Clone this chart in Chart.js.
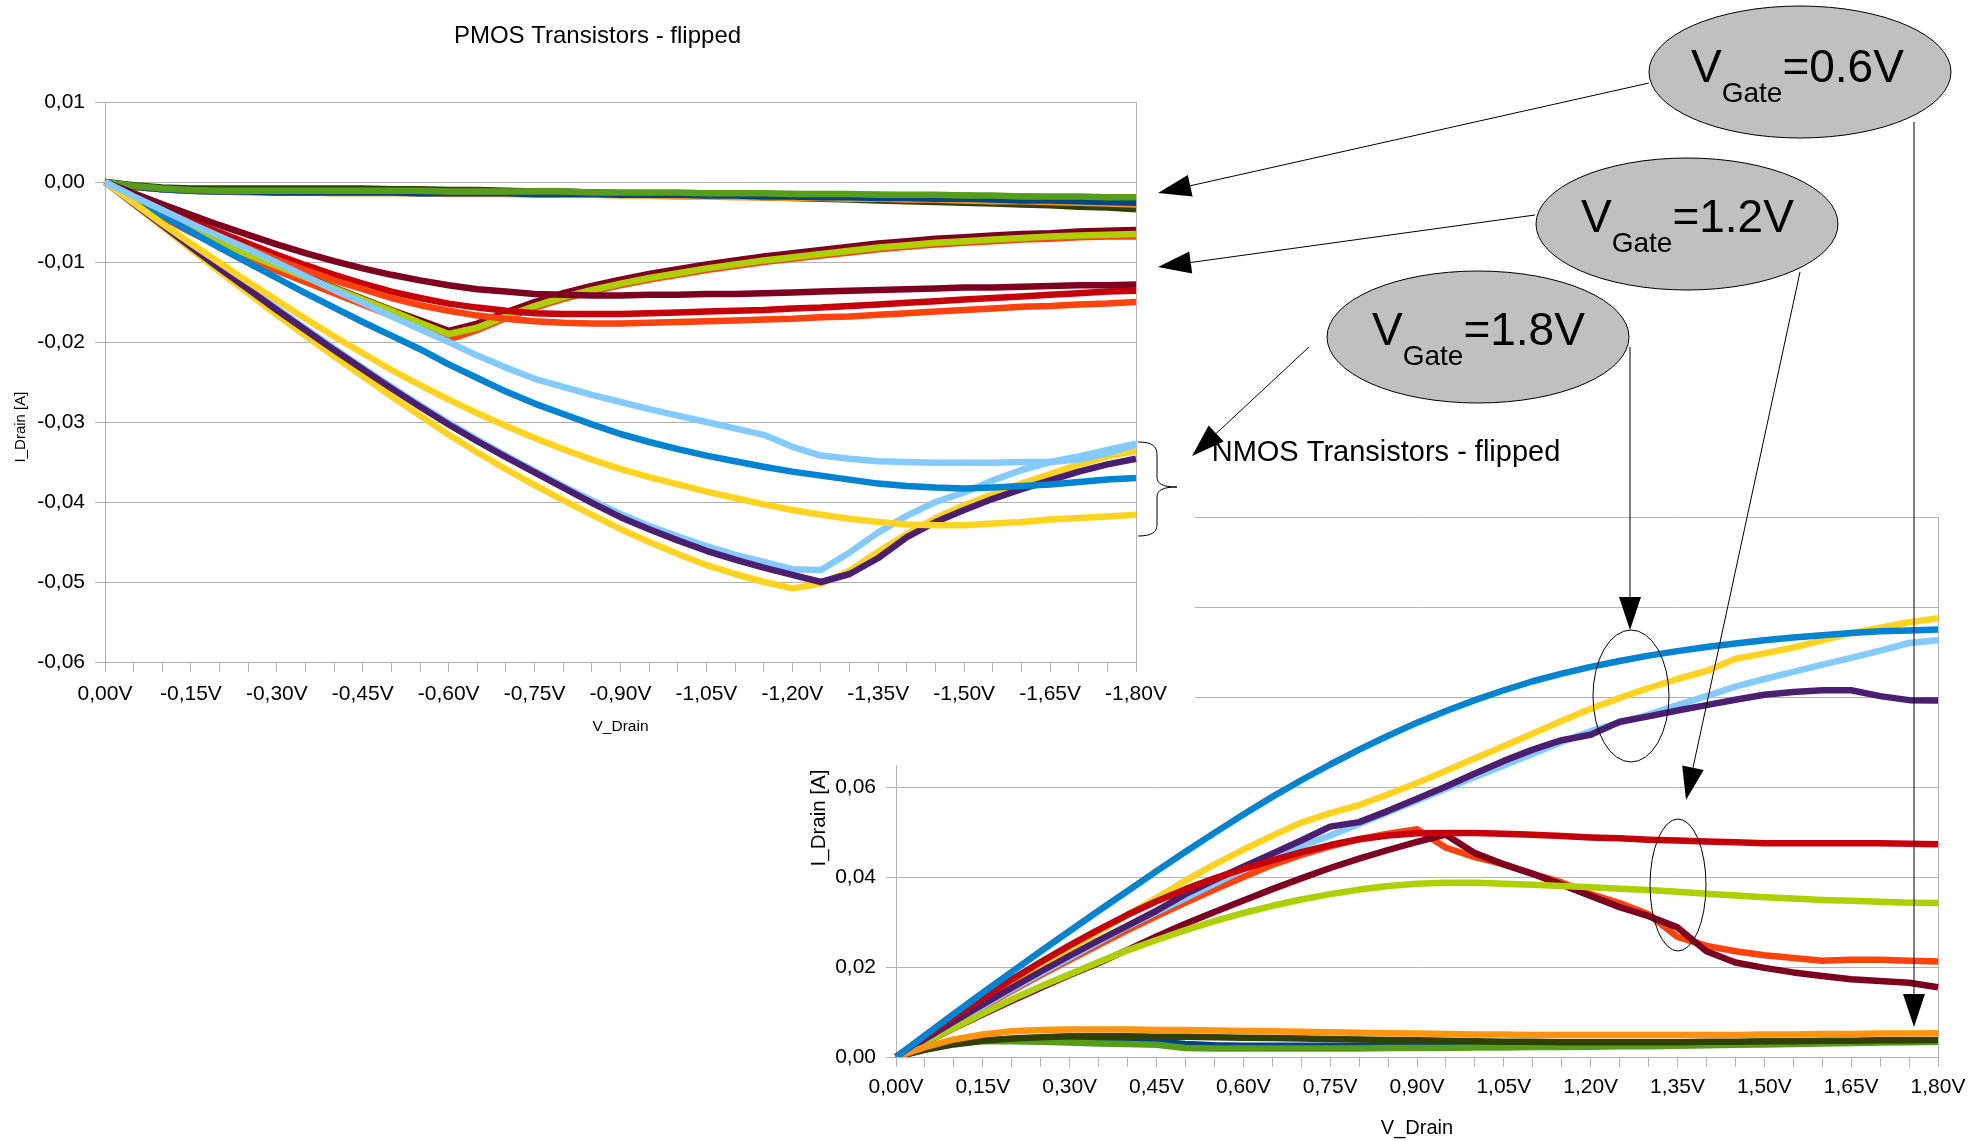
<!DOCTYPE html>
<html>
<head>
<meta charset="utf-8">
<script src="https://cdn.jsdelivr.net/npm/chart.js@4.4.1/dist/chart.umd.min.js"></script>
<style>
  html, body { margin: 0; padding: 0; background: #fff; }
  #stage { position: relative; width: 1982px; height: 1141px; overflow: hidden; }
  #nmos { position: absolute; left: 790px; top: 420px; z-index: 1; }
  #pmos { position: absolute; left: 0; top: 0; z-index: 2; }
  #notes { position: absolute; left: 0; top: 0; z-index: 3; font-family: "Liberation Sans", Arial, sans-serif; }
</style>
</head>
<body>
<div id="stage">
  <canvas id="nmos" width="1192" height="721"></canvas>
  <canvas id="pmos" width="1195" height="765"></canvas>
  <svg id="notes" width="1982" height="1141" xmlns="http://www.w3.org/2000/svg"></svg>
</div>
<script>
// x categories (drain voltage, 0.05V steps)
const pmosVolts = ['0,00V','-0,05V','-0,10V','-0,15V','-0,20V','-0,25V','-0,30V','-0,35V','-0,40V','-0,45V','-0,50V','-0,55V','-0,60V','-0,65V','-0,70V','-0,75V','-0,80V','-0,85V','-0,90V','-0,95V','-1,00V','-1,05V','-1,10V','-1,15V','-1,20V','-1,25V','-1,30V','-1,35V','-1,40V','-1,45V','-1,50V','-1,55V','-1,60V','-1,65V','-1,70V','-1,75V','-1,80V'];
const nmosVolts = ['0,00V','0,05V','0,10V','0,15V','0,20V','0,25V','0,30V','0,35V','0,40V','0,45V','0,50V','0,55V','0,60V','0,65V','0,70V','0,75V','0,80V','0,85V','0,90V','0,95V','1,00V','1,05V','1,10V','1,15V','1,20V','1,25V','1,30V','1,35V','1,40V','1,45V','1,50V','1,55V','1,60V','1,65V','1,70V','1,75V','1,80V'];

// LibreOffice default series colours, used in order
const palette = ['#004586','#ff420e','#ffd320','#579d1c','#7e0021','#83caff','#314004','#aecf00','#4b1f6f','#ff950e','#c5000b','#0084d1'];

// PMOS I_Drain [A], transistor T0..T5, gate 0.6 / 1.2 / 1.8 V
const pT0_06 = [0,-0.0006,-0.0009,-0.0011,-0.0012,-0.0012,-0.0013,-0.0013,-0.0013,-0.0013,-0.0013,-0.0014,-0.0014,-0.0014,-0.0014,-0.0015,-0.0015,-0.0015,-0.0016,-0.0016,-0.0016,-0.0017,-0.0017,-0.0018,-0.0018,-0.0019,-0.0019,-0.0020,-0.0020,-0.0021,-0.0021,-0.0022,-0.0022,-0.0023,-0.0023,-0.0024,-0.0024];
const pT0_12 = [0,-0.0023,-0.0044,-0.0063,-0.0080,-0.0096,-0.0111,-0.0125,-0.0139,-0.0153,-0.0167,-0.0182,-0.0197,-0.0185,-0.0170,-0.0157,-0.0146,-0.0137,-0.0129,-0.0122,-0.0116,-0.0110,-0.0105,-0.0100,-0.0096,-0.0092,-0.0088,-0.0084,-0.0081,-0.0078,-0.0076,-0.0074,-0.0072,-0.0071,-0.0069,-0.0068,-0.0068];
const pT0_18 = [0,-0.0028,-0.0056,-0.0084,-0.0112,-0.0139,-0.0166,-0.0192,-0.0218,-0.0243,-0.0268,-0.0292,-0.0316,-0.0338,-0.0359,-0.0379,-0.0398,-0.0416,-0.0434,-0.0450,-0.0465,-0.0479,-0.0490,-0.0500,-0.0508,-0.0502,-0.0486,-0.0462,-0.0440,-0.0420,-0.0404,-0.0390,-0.0377,-0.0365,-0.0353,-0.0343,-0.0336];
const pT1_06 = [0,-0.0005,-0.0008,-0.0010,-0.0011,-0.0011,-0.0011,-0.0011,-0.0011,-0.0012,-0.0012,-0.0012,-0.0012,-0.0012,-0.0013,-0.0013,-0.0013,-0.0013,-0.0014,-0.0014,-0.0014,-0.0014,-0.0015,-0.0015,-0.0015,-0.0016,-0.0016,-0.0016,-0.0017,-0.0017,-0.0017,-0.0018,-0.0018,-0.0019,-0.0019,-0.0020,-0.0020];
const pT1_12 = [0,-0.0021,-0.0041,-0.0059,-0.0075,-0.0090,-0.0104,-0.0118,-0.0132,-0.0146,-0.0160,-0.0173,-0.0186,-0.0177,-0.0163,-0.0150,-0.0139,-0.0130,-0.0122,-0.0115,-0.0109,-0.0103,-0.0098,-0.0093,-0.0089,-0.0085,-0.0081,-0.0077,-0.0074,-0.0071,-0.0069,-0.0067,-0.0065,-0.0064,-0.0062,-0.0061,-0.0060];
const pT1_18 = [0,-0.0027,-0.0053,-0.0080,-0.0106,-0.0132,-0.0158,-0.0183,-0.0208,-0.0232,-0.0256,-0.0279,-0.0301,-0.0322,-0.0342,-0.0361,-0.0380,-0.0398,-0.0415,-0.0430,-0.0443,-0.0455,-0.0466,-0.0475,-0.0484,-0.0485,-0.0463,-0.0438,-0.0417,-0.0400,-0.0388,-0.0373,-0.0360,-0.0350,-0.0343,-0.0335,-0.0327];
const pT2_06 = [0,-0.0004,-0.0007,-0.0008,-0.0008,-0.0008,-0.0008,-0.0008,-0.0008,-0.0008,-0.0009,-0.0009,-0.0010,-0.0010,-0.0011,-0.0012,-0.0012,-0.0013,-0.0014,-0.0015,-0.0016,-0.0017,-0.0018,-0.0019,-0.0020,-0.0021,-0.0022,-0.0023,-0.0024,-0.0025,-0.0026,-0.0027,-0.0028,-0.0029,-0.0031,-0.0032,-0.0034];
const pT2_12 = [0,-0.0022,-0.0042,-0.0060,-0.0076,-0.0091,-0.0105,-0.0119,-0.0133,-0.0147,-0.0161,-0.0176,-0.0190,-0.0182,-0.0168,-0.0155,-0.0144,-0.0135,-0.0127,-0.0120,-0.0114,-0.0108,-0.0103,-0.0098,-0.0094,-0.0090,-0.0086,-0.0082,-0.0079,-0.0076,-0.0074,-0.0072,-0.0070,-0.0068,-0.0067,-0.0066,-0.0065];
const pT2_18 = [0,-0.0027,-0.0054,-0.0081,-0.0108,-0.0134,-0.0160,-0.0185,-0.0210,-0.0234,-0.0258,-0.0281,-0.0303,-0.0324,-0.0344,-0.0363,-0.0382,-0.0401,-0.0419,-0.0434,-0.0448,-0.0461,-0.0472,-0.0482,-0.0491,-0.0500,-0.0490,-0.0470,-0.0444,-0.0425,-0.0410,-0.0396,-0.0384,-0.0373,-0.0362,-0.0353,-0.0346];
const pT3_06 = [0,-0.0006,-0.0009,-0.0011,-0.0012,-0.0013,-0.0013,-0.0013,-0.0014,-0.0014,-0.0014,-0.0014,-0.0015,-0.0015,-0.0015,-0.0016,-0.0016,-0.0016,-0.0017,-0.0017,-0.0018,-0.0018,-0.0019,-0.0019,-0.0020,-0.0020,-0.0021,-0.0021,-0.0022,-0.0022,-0.0023,-0.0024,-0.0024,-0.0025,-0.0026,-0.0027,-0.0028];
const pT3_12 = [0,-0.0016,-0.0032,-0.0048,-0.0063,-0.0077,-0.0091,-0.0104,-0.0116,-0.0127,-0.0137,-0.0145,-0.0152,-0.0157,-0.0161,-0.0164,-0.0165,-0.0165,-0.0165,-0.0164,-0.0163,-0.0162,-0.0161,-0.0160,-0.0158,-0.0157,-0.0155,-0.0153,-0.0151,-0.0149,-0.0147,-0.0145,-0.0143,-0.0141,-0.0139,-0.0137,-0.0136];
const pT3_18 = [0,-0.0021,-0.0042,-0.0062,-0.0082,-0.0101,-0.0120,-0.0139,-0.0157,-0.0175,-0.0192,-0.0209,-0.0228,-0.0245,-0.0262,-0.0277,-0.0290,-0.0303,-0.0315,-0.0325,-0.0334,-0.0342,-0.0349,-0.0356,-0.0362,-0.0367,-0.0372,-0.0377,-0.0380,-0.0382,-0.0383,-0.0382,-0.0380,-0.0378,-0.0375,-0.0372,-0.0370];
const pT4_06 = [0,-0.0006,-0.0009,-0.0011,-0.0012,-0.0012,-0.0013,-0.0013,-0.0013,-0.0013,-0.0013,-0.0014,-0.0014,-0.0014,-0.0014,-0.0015,-0.0015,-0.0015,-0.0016,-0.0016,-0.0016,-0.0017,-0.0017,-0.0018,-0.0018,-0.0019,-0.0019,-0.0020,-0.0020,-0.0021,-0.0021,-0.0022,-0.0023,-0.0023,-0.0024,-0.0025,-0.0026];
const pT4_12 = [0,-0.0018,-0.0035,-0.0052,-0.0068,-0.0083,-0.0097,-0.0110,-0.0123,-0.0134,-0.0145,-0.0154,-0.0161,-0.0167,-0.0171,-0.0174,-0.0176,-0.0177,-0.0177,-0.0176,-0.0175,-0.0174,-0.0173,-0.0172,-0.0171,-0.0169,-0.0168,-0.0166,-0.0164,-0.0162,-0.0160,-0.0158,-0.0156,-0.0155,-0.0153,-0.0152,-0.0150];
const pT4_18 = [0,-0.0026,-0.0052,-0.0077,-0.0101,-0.0125,-0.0148,-0.0171,-0.0193,-0.0214,-0.0235,-0.0254,-0.0272,-0.0289,-0.0305,-0.0320,-0.0334,-0.0347,-0.0359,-0.0369,-0.0378,-0.0387,-0.0395,-0.0403,-0.0410,-0.0416,-0.0421,-0.0425,-0.0428,-0.0429,-0.0429,-0.0427,-0.0425,-0.0422,-0.0420,-0.0418,-0.0416];
const pT5_06 = [0,-0.0005,-0.0008,-0.0010,-0.0011,-0.0011,-0.0011,-0.0011,-0.0011,-0.0011,-0.0011,-0.0011,-0.0012,-0.0012,-0.0012,-0.0012,-0.0012,-0.0013,-0.0013,-0.0013,-0.0013,-0.0014,-0.0014,-0.0014,-0.0015,-0.0015,-0.0015,-0.0016,-0.0016,-0.0016,-0.0017,-0.0017,-0.0018,-0.0018,-0.0018,-0.0019,-0.0019];
const pT5_12 = [0,-0.0014,-0.0028,-0.0041,-0.0054,-0.0066,-0.0078,-0.0089,-0.0099,-0.0108,-0.0116,-0.0123,-0.0129,-0.0134,-0.0137,-0.0140,-0.0141,-0.0142,-0.0142,-0.0141,-0.0141,-0.0140,-0.0140,-0.0139,-0.0138,-0.0137,-0.0136,-0.0135,-0.0134,-0.0133,-0.0132,-0.0132,-0.0131,-0.0130,-0.0129,-0.0129,-0.0128];
const pT5_18 = [0,-0.0018,-0.0035,-0.0052,-0.0068,-0.0084,-0.0101,-0.0118,-0.0135,-0.0151,-0.0168,-0.0184,-0.0200,-0.0217,-0.0232,-0.0246,-0.0256,-0.0266,-0.0275,-0.0284,-0.0292,-0.0300,-0.0308,-0.0316,-0.0331,-0.0342,-0.0346,-0.0349,-0.0350,-0.0351,-0.0351,-0.0351,-0.0350,-0.0350,-0.0347,-0.0339,-0.0328];

// NMOS I_Drain [A], transistor T0..T3, gate 0.6 / 1.2 / 1.8 V
const nT0_06 = [0,0.0018,0.0031,0.0037,0.0039,0.0039,0.0038,0.0037,0.0036,0.0034,0.0029,0.0026,0.0025,0.0025,0.0025,0.0025,0.0025,0.0025,0.0026,0.0026,0.0026,0.0026,0.0027,0.0027,0.0027,0.0028,0.0028,0.0029,0.0029,0.0030,0.0030,0.0031,0.0032,0.0033,0.0034,0.0035,0.0036];
const nT0_12 = [0,0.0038,0.0075,0.0111,0.0147,0.0182,0.0216,0.0249,0.0282,0.0313,0.0343,0.0372,0.0400,0.0427,0.0449,0.0468,0.0484,0.0496,0.0506,0.0465,0.0444,0.0428,0.0407,0.0388,0.0362,0.0342,0.0317,0.0267,0.0247,0.0235,0.0226,0.0220,0.0214,0.0216,0.0216,0.0214,0.0212];
const nT0_18 = [0,0.0042,0.0083,0.0124,0.0164,0.0203,0.0241,0.0278,0.0316,0.0354,0.0392,0.0428,0.0461,0.0492,0.0521,0.0542,0.0560,0.0584,0.0609,0.0636,0.0664,0.0691,0.0719,0.0747,0.0774,0.0798,0.0820,0.0840,0.0858,0.0885,0.0897,0.0910,0.0926,0.0942,0.0954,0.0966,0.0975];
const nT1_06 = [0,0.0018,0.0030,0.0035,0.0035,0.0034,0.0032,0.0030,0.0029,0.0027,0.0020,0.0019,0.0019,0.0019,0.0019,0.0019,0.0019,0.0020,0.0020,0.0020,0.0021,0.0021,0.0022,0.0022,0.0023,0.0024,0.0024,0.0025,0.0026,0.0027,0.0028,0.0029,0.0030,0.0031,0.0032,0.0033,0.0034];
const nT1_12 = [0,0.0032,0.0064,0.0095,0.0125,0.0154,0.0182,0.0209,0.0238,0.0268,0.0296,0.0322,0.0348,0.0373,0.0397,0.0420,0.0441,0.0460,0.0478,0.0494,0.0453,0.0428,0.0407,0.0383,0.0358,0.0333,0.0313,0.0288,0.0235,0.0210,0.0198,0.0188,0.0180,0.0173,0.0169,0.0165,0.0155];
const nT1_18 = [0,0.0038,0.0076,0.0113,0.0150,0.0186,0.0221,0.0256,0.0290,0.0322,0.0353,0.0385,0.0417,0.0444,0.0469,0.0492,0.0518,0.0544,0.0570,0.0596,0.0622,0.0648,0.0674,0.0700,0.0724,0.0743,0.0761,0.0782,0.0802,0.0823,0.0840,0.0856,0.0872,0.0887,0.0903,0.0920,0.0926];
const nT2_06 = [0,0.0016,0.0028,0.0036,0.0041,0.0044,0.0046,0.0046,0.0046,0.0045,0.0045,0.0044,0.0043,0.0042,0.0041,0.0040,0.0039,0.0038,0.0037,0.0036,0.0035,0.0034,0.0034,0.0033,0.0033,0.0033,0.0033,0.0033,0.0034,0.0034,0.0035,0.0035,0.0036,0.0036,0.0037,0.0037,0.0038];
const nT2_12 = [0,0.0033,0.0065,0.0097,0.0128,0.0157,0.0184,0.0211,0.0237,0.0260,0.0282,0.0302,0.0320,0.0336,0.0350,0.0362,0.0372,0.0380,0.0385,0.0387,0.0387,0.0385,0.0383,0.0380,0.0377,0.0374,0.0371,0.0367,0.0363,0.0359,0.0355,0.0352,0.0349,0.0347,0.0345,0.0343,0.0342];
const nT2_18 = [0,0.0040,0.0079,0.0117,0.0154,0.0190,0.0225,0.0259,0.0292,0.0325,0.0362,0.0393,0.0423,0.0452,0.0481,0.0512,0.0522,0.0547,0.0574,0.0601,0.0630,0.0658,0.0683,0.0704,0.0716,0.0745,0.0757,0.0770,0.0782,0.0794,0.0805,0.0811,0.0815,0.0815,0.0802,0.0793,0.0792];
const nT3_06 = [0,0.0022,0.0039,0.0050,0.0057,0.0060,0.0061,0.0061,0.0061,0.0060,0.0060,0.0059,0.0058,0.0057,0.0056,0.0055,0.0054,0.0053,0.0052,0.0051,0.0050,0.0050,0.0049,0.0049,0.0049,0.0049,0.0049,0.0049,0.0049,0.0049,0.0050,0.0050,0.0051,0.0051,0.0052,0.0052,0.0053];
const nT3_12 = [0,0.0045,0.0089,0.0131,0.0172,0.0211,0.0248,0.0283,0.0316,0.0346,0.0373,0.0397,0.0418,0.0437,0.0455,0.0471,0.0484,0.0492,0.0497,0.0498,0.0498,0.0496,0.0494,0.0491,0.0488,0.0486,0.0483,0.0481,0.0479,0.0477,0.0475,0.0475,0.0475,0.0475,0.0475,0.0474,0.0473];
const nT3_18 = [0,0.0048,0.0096,0.0143,0.0189,0.0235,0.0280,0.0325,0.0369,0.0413,0.0456,0.0498,0.0539,0.0578,0.0615,0.0650,0.0683,0.0714,0.0743,0.0769,0.0793,0.0815,0.0835,0.0852,0.0867,0.0880,0.0892,0.0902,0.0911,0.0919,0.0926,0.0932,0.0937,0.0942,0.0946,0.0948,0.0950];

const pmosSeries = [pT0_06, pT0_12, pT0_18, pT1_06, pT1_12, pT1_18, pT2_06, pT2_12, pT2_18, pT3_06, pT3_12, pT3_18, pT4_06, pT4_12, pT4_18, pT5_06, pT5_12, pT5_18];
const nmosSeries = [nT0_06, nT0_12, nT0_18, nT1_06, nT1_12, nT1_18, nT2_06, nT2_12, nT2_18, nT3_06, nT3_12, nT3_18];

const GRID = '#b3b3b3';
Chart.defaults.font.family = '"Liberation Sans", Arial, sans-serif';
Chart.defaults.color = '#000';

// the PMOS chart sits over the NMOS one and hides its top-left corner
const whiteBg = {
    id: 'whiteBg',
    beforeDraw(chart){
        const ctx = chart.ctx;
        ctx.save();
        ctx.fillStyle = '#fff';
        ctx.fillRect(0, 0, chart.width, chart.height);
        ctx.restore();
    }
};

function comma(v){
    if(Math.abs(v) < 1e-9) v = 0;
    return v.toFixed(2).replace('.', ',');
}

function makeChart(id, o){
    const n = o.series.length;
    const datasets = o.series.map((data, k) => ({
        data: data,
        borderColor: palette[k % palette.length],
        borderWidth: 6.5,
        borderJoinStyle: 'round',
        pointRadius: 0,
        tension: 0,
        fill: false,
        order: n - k          // later series drawn on top, as in the original
    }));

    return new Chart(document.getElementById(id), {
        type: 'line',
        data: { labels: o.labels, datasets: datasets },
        options: {
            responsive: false,
            animation: false,
            layout: { padding: 0 },
            plugins: {
                legend: { display: false },
                tooltip: { enabled: false },
                title: {
                    display: true,
                    text: o.title,
                    color: '#000',
                    font: { size: o.titleSize, weight: 'normal' },
                    padding: o.titlePad
                }
            },
            scales: {
                x: {
                    grid: { drawOnChartArea: false, tickLength: 10, tickColor: GRID },
                    border: { color: GRID },
                    ticks: {
                        autoSkip: false,
                        maxRotation: 0,
                        padding: o.xPad,
                        font: { size: 21 },
                        callback: function(v, i){ return i % 3 === 0 ? this.getLabelForValue(v) : ''; }
                    },
                    title: { display: true, text: 'V_Drain', font: { size: o.xTitleSize }, padding: { top: 0, bottom: o.xTitlePad } },
                    afterFit(s){ s.height = o.xHeight; }
                },
                y: {
                    min: o.yMin,
                    max: o.yMax,
                    grid: { color: GRID, tickLength: 10, tickColor: GRID },
                    border: { color: GRID },
                    ticks: { stepSize: o.yStep, padding: 10, font: { size: 21 }, callback: comma },
                    afterFit(s){ s.width = o.yWidth; }
                },
                // only used for the right frame line and the right margin
                yr: {
                    position: 'right',
                    min: 0, max: 1,
                    grid: { display: false },
                    ticks: { display: false },
                    border: { color: GRID },
                    afterFit(s){ s.width = o.rightWidth; }
                }
            }
        },
        plugins: [whiteBg]
    });
}

makeChart('nmos', {
    labels: nmosVolts, series: nmosSeries,
    title: 'NMOS Transistors - flipped', titleSize: 29, titlePad: { top: 16, bottom: 46.2 },
    yMin: 0, yMax: 0.12, yStep: 0.02, yWidth: 106, rightWidth: 44,
    xHeight: 84, xPad: 7.4, xTitleSize: 20, xTitlePad: 1
});

makeChart('pmos', {
    labels: pmosVolts, series: pmosSeries,
    title: 'PMOS Transistors - flipped', titleSize: 24, titlePad: { top: 22, bottom: 51.2 },
    yMin: -0.06, yMax: 0.01, yStep: 0.01, yWidth: 105, rightWidth: 59,
    xHeight: 103, xPad: 9.4, xTitleSize: 15.5, xTitlePad: 28.6
});

// ---- annotations: gate-voltage bubbles, arrows, brace, y titles ----
const svg = document.getElementById('notes');
const NS = 'http://www.w3.org/2000/svg';

function el(tag, attrs, text){
    const e = document.createElementNS(NS, tag);
    for(const k in attrs) e.setAttribute(k, attrs[k]);
    if(text) e.textContent = text;
    svg.appendChild(e);
    return e;
}

function arrow(x1, y1, x2, y2){
    const len = Math.hypot(x2 - x1, y2 - y1);
    const ux = (x2 - x1) / len, uy = (y2 - y1) / len;
    const hl = 33, hw = 11;
    const bx = x2 - ux * hl, by = y2 - uy * hl;
    el('line', { x1: x1, y1: y1, x2: bx, y2: by, stroke: '#000', 'stroke-width': 1 });
    el('polygon', {
        points: `${x2},${y2} ${bx - uy * hw},${by + ux * hw} ${bx + uy * hw},${by - ux * hw}`,
        fill: '#000'
    });
}

function bubble(cx, cy, tx, ty, value){
    el('ellipse', { cx: cx, cy: cy, rx: 151, ry: 66, fill: '#c0c0c0', stroke: '#000', 'stroke-width': 1 });
    const t = el('text', { x: tx, y: ty, 'font-size': 46, fill: '#000' });
    t.appendChild(document.createTextNode('V'));
    const sub = document.createElementNS(NS, 'tspan');
    sub.setAttribute('dy', 20);
    sub.setAttribute('font-size', 28);
    sub.textContent = 'Gate';
    t.appendChild(sub);
    const rest = document.createElementNS(NS, 'tspan');
    rest.setAttribute('dy', -20);
    rest.setAttribute('font-size', 46);
    rest.textContent = '=' + value;
    t.appendChild(rest);
}

arrow(1649, 83, 1158, 193);
arrow(1535, 215, 1158, 267);
arrow(1309, 347, 1192, 456);
arrow(1630, 347, 1630, 630);
arrow(1800, 272, 1686, 800);
arrow(1914, 122, 1914, 1027);

bubble(1800, 72, 1691, 82, '0.6V');
bubble(1687, 224, 1581, 232, '1.2V');
bubble(1478, 337, 1372, 345, '1.8V');

el('ellipse', { cx: 1631, cy: 696, rx: 38, ry: 66, fill: 'none', stroke: '#000', 'stroke-width': 1 });
el('ellipse', { cx: 1678, cy: 885, rx: 28, ry: 66, fill: 'none', stroke: '#000', 'stroke-width': 1 });

el('path', {
    d: 'M1138,442 C1152,442 1157,446 1157,455 L1157,477 C1157,484 1163,487 1177,487 C1163,487 1157,490 1157,497 L1157,525 C1157,532 1152,536 1138,536',
    fill: 'none', stroke: '#000', 'stroke-width': 1
});

el('text', { transform: 'translate(19,427) rotate(-90)', 'text-anchor': 'middle', 'dominant-baseline': 'central', 'font-size': 15, fill: '#000' }, 'I_Drain [A]');
el('text', { transform: 'translate(817,818) rotate(-90)', 'text-anchor': 'middle', 'dominant-baseline': 'central', 'font-size': 20.5, fill: '#000' }, 'I_Drain [A]');
</script>
</body>
</html>
